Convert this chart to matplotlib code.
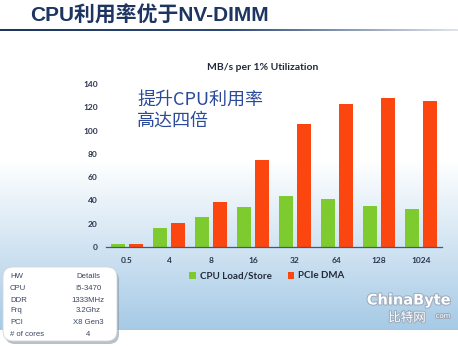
import numpy as np
import matplotlib
matplotlib.use('Agg')
import matplotlib.pyplot as plt
from matplotlib.patches import FancyBboxPatch
from matplotlib.colors import LinearSegmentedColormap
import matplotlib.patheffects as pe

# data
categories = ['0.5', '4', '8', '16', '32', '64', '128', '1024']
cpu_load_store = [2.6, 16.4, 25.6, 34.0, 43.4, 41.1, 35.1, 32.6]
pcie_dma = [2.4, 20.3, 38.5, 74.7, 105.7, 123.1, 128.3, 125.4]
y_ticks = [0, 20, 40, 60, 80, 100, 120, 140]

hw_rows = ['HW', 'CPU', 'DDR', 'Frq', 'PCI', '# of cores']
hw_details = ['Details', 'I5-3470', '1333MHz', '3.2Ghz', 'X8 Gen3', '4']

W, H = 458, 346
cjk = ['Noto Sans CJK SC', 'DejaVu Sans']
navy = '#1d3560'
green = '#7dcb2e'
red = '#fb4610'

fig = plt.figure(figsize=(W / 100, H / 100), dpi=100)

# background: white top fading to light blue, white strip at the bottom
bg = fig.add_axes([0, 0, 1, 1], zorder=-1)
rows = np.arange(H) + 0.5          # pixel rows counted from the top
shade = np.clip((rows - 160) / (330 - 160), 0, 1)
shade[rows > 330] = 0
grad = shade[:, None] * np.ones((1, 2))
bg_cmap = LinearSegmentedColormap.from_list('bg', ['#ffffff', '#a6cae6'])
bg.imshow(grad, extent=(0, W, 0, H), cmap=bg_cmap, vmin=0, vmax=1,
          aspect='auto', origin='upper')

# title and its underline
bg.text(30, H - 16, 'CPU利用率优于NV-DIMM', family=['Liberation Sans', 'Noto Sans CJK SC'],
        fontsize=15, fontweight='bold', color=navy, va='center', ha='left')
line_cmap = LinearSegmentedColormap.from_list('ln', [navy, '#2c4a78', '#dfe3ea'])
bg.imshow(np.linspace(0, 1, 200)[None, :], extent=(0, W, H - 31.5, H - 29.5),
          cmap=line_cmap, aspect='auto')
bg.set_xlim(0, W)
bg.set_ylim(0, H)
bg.axis('off')

# hardware details box
bg.add_patch(FancyBboxPatch((5, H - 344), 114, 74,
                            boxstyle='round,pad=0,rounding_size=10',
                            fc='#8c96a3', ec='none', alpha=0.6))
bg.add_patch(FancyBboxPatch((3, H - 341), 114, 74,
                            boxstyle='round,pad=0,rounding_size=10',
                            fc='white', ec='#d0d6de', lw=0.6))
row_y = [277, 288.5, 300, 311, 322.5, 334]
for name, detail, yy in zip(hw_rows, hw_details, row_y):
    bg.text(10, H - yy, name, family='Liberation Sans', fontsize=5.6,
            color='#3c4660', va='center', ha='left')
    bg.text(88, H - yy, detail, family='Liberation Sans', fontsize=5.6,
            color='#3c4660', va='center', ha='center')

# ChinaByte watermark
wm = [pe.withStroke(linewidth=1.4, foreground='#9aa9ba')]
bg.text(409, H - 300, 'ChinaByte', family='DejaVu Sans', fontsize=10.5,
        fontweight='bold', color='white', ha='center', va='center', path_effects=wm)
bg.text(407, H - 318, '比特网', family=cjk, fontsize=9,
        color='white', ha='center', va='center', path_effects=wm)
bg.text(443, H - 316, 'com', family='DejaVu Sans', fontsize=5,
        color='white', ha='center', va='center', path_effects=wm)

# the bar chart
ax = fig.add_axes([106 / W, 1 - 247 / H, 336 / W, 163 / H])
ax.patch.set_alpha(0)
x = np.arange(len(categories))
ax.bar(x - 0.205, cpu_load_store, width=0.33, color=green, label='CPU Load/Store')
ax.bar(x + 0.205, pcie_dma, width=0.33, color=red, label='PCIe DMA')
ax.set_xlim(-0.5, len(categories) - 0.5)
ax.set_ylim(0, 140)
ax.set_yticks(y_ticks)
ax.set_xticks(x)
ax.set_xticklabels(categories)
ax.tick_params(axis='both', length=0, labelsize=6, labelcolor='#2a3550')
ax.tick_params(axis='x', pad=7)
ax.tick_params(axis='y', pad=6)
for lab in ax.get_xticklabels() + ax.get_yticklabels():
    lab.set_fontweight('bold')
    lab.set_family('Lato')
for side in ['top', 'right', 'left']:
    ax.spines[side].set_visible(False)
ax.spines['bottom'].set_color('#3a5a8a')
ax.spines['bottom'].set_linewidth(0.9)

fig.text(263 / W, 1 - 68 / H, 'MB/s per 1% Utilization', family='Lato',
         fontsize=7.5, fontweight='bold', color='#222a3a', ha='center', va='center')
fig.text(137 / W, 1 - 110 / H, '提升CPU利用率\n高达四倍', family=cjk, fontsize=13,
         color='#2b4a9a', ha='left', va='center', linespacing=1.25)

fig.legend(loc='center', bbox_to_anchor=(267 / W, 1 - 276 / H), ncol=2,
           frameon=False, handlelength=0.7, handleheight=0.7, handletextpad=0.4,
           columnspacing=1.6, prop={'family': 'Lato', 'weight': 'bold', 'size': 7})
for t in fig.legends[0].get_texts():
    t.set_color('#222a3a')

fig.savefig('out.png', dpi=100)
